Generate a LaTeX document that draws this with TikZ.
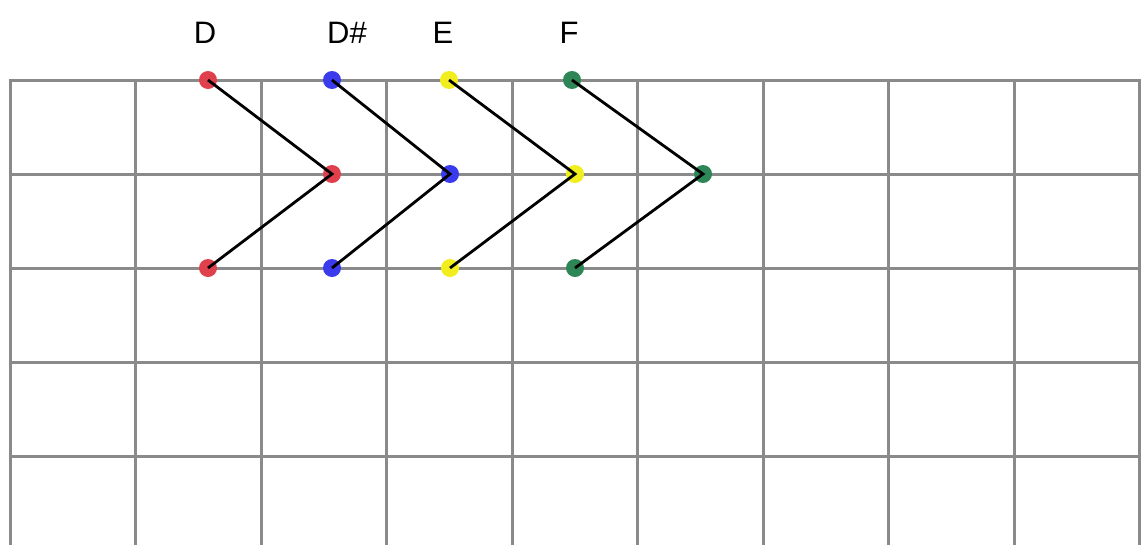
\documentclass[tikz,border=0pt]{standalone}
\usepackage{fontspec}
\setmainfont{Liberation Sans}
\definecolor{gridgray}{HTML}{8A8A8A}
\definecolor{dred}{HTML}{E0404C}
\definecolor{dblue}{HTML}{3B3BEE}
\definecolor{dyellow}{HTML}{F2EE1E}
\definecolor{dgreen}{HTML}{2E8656}
\begin{document}
\begin{tikzpicture}[x=1pt,y=-1pt,
  gridline/.style={draw=gridgray,line width=3pt},
  dot/.style={circle,inner sep=0pt,minimum size=18pt,fill=#1},
  link/.style={draw=black,line width=2.8pt},
  lbl/.style={font=\fontsize{31}{31}\selectfont,anchor=base}]
\useasboundingbox (0,0) rectangle (1141,544);
\fill[white] (0,0) rectangle (1141,544);
% grid
\foreach \i in {0,...,9} {
  \draw[gridline] ({10+125.5*\i},80) -- ({10+125.5*\i},546);
}
\foreach \j in {0,...,4} {
  \draw[gridline] (8.5,{80+94*\j}) -- (1143,{80+94*\j});
}
% labels
\node[lbl] (lD) at (205,43) {D};
\node[lbl] (lDs) at (347,43) {D\#};
\node[lbl] (lE) at (443,43) {E};
\node[lbl] (lF) at (569,43) {F};
% dots
\node[dot=dred] (r1) at (208,80) {};
\node[dot=dred] (r2) at (332,174) {};
\node[dot=dred] (r3) at (208,268) {};
\node[dot=dblue] (b1) at (332,80) {};
\node[dot=dblue] (b2) at (450,174) {};
\node[dot=dblue] (b3) at (332,268) {};
\node[dot=dyellow] (y1) at (449,80) {};
\node[dot=dyellow] (y2) at (575,174) {};
\node[dot=dyellow] (y3) at (450,268) {};
\node[dot=dgreen] (g1) at (572,80) {};
\node[dot=dgreen] (g2) at (703,174) {};
\node[dot=dgreen] (g3) at (575,268) {};
% connectors
\foreach \c in {r,b,y,g} {
  \draw[link,line join=miter] (\c1.center) -- (\c2.center) -- (\c3.center);
}
\end{tikzpicture}
\end{document}
